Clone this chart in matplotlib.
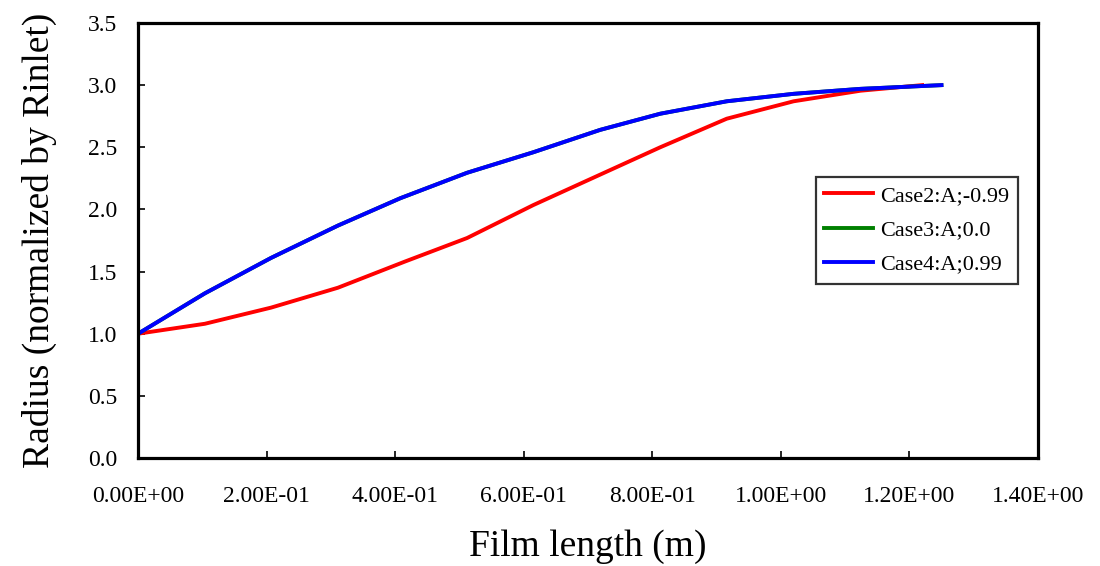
import numpy as np
import matplotlib
matplotlib.use('Agg')
import matplotlib.pyplot as plt

plt.rcParams['font.family'] = ['Liberation Serif', 'DejaVu Serif']

# Case2 (A = -0.99)
x_case2 = [0.0, 0.104, 0.207, 0.311, 0.415, 0.512, 0.615, 0.719, 0.8125, 0.916, 1.02, 1.124, 1.22]
y_case2 = [1.0, 1.08, 1.21, 1.37, 1.58, 1.77, 2.035, 2.28, 2.50, 2.73, 2.87, 2.955, 3.0]

# Case4 (A = 0.99)
x_case4 = [0.0, 0.104, 0.207, 0.311, 0.408, 0.512, 0.615, 0.719, 0.8125, 0.916, 1.02, 1.124, 1.25]
y_case4 = [1.0, 1.325, 1.61, 1.87, 2.09, 2.295, 2.46, 2.64, 2.77, 2.87, 2.93, 2.97, 3.0]

# Case3 (A = 0.0) lies under Case4 in the picture
x_case3 = x_case4
y_case3 = y_case4

x_ticks = [0.0, 0.2, 0.4, 0.6, 0.8, 1.0, 1.2, 1.4]
x_tick_labels = ['0.00E+00', '2.00E-01', '4.00E-01', '6.00E-01', '8.00E-01',
                 '1.00E+00', '1.20E+00', '1.40E+00']
y_ticks = [0.0, 0.5, 1.0, 1.5, 2.0, 2.5, 3.0, 3.5]

fig = plt.figure(figsize=(11, 5.66), dpi=100)
ax = fig.add_axes([0.1255, 0.1908, 0.818, 0.7686])

ax.plot(x_case2, y_case2, color='#ff0000', lw=2.8, label='Case2:A;-0.99')
ax.plot(x_case3, y_case3, color='#008000', lw=2.8, label='Case3:A;0.0')
ax.plot(x_case4, y_case4, color='#0000ff', lw=2.8, label='Case4:A;0.99')

ax.set_xlim(0, 1.4)
ax.set_ylim(0, 3.5)
ax.set_xticks(x_ticks)
ax.set_xticklabels(x_tick_labels)
ax.set_yticks(y_ticks)
ax.set_yticklabels(['%.1f' % v for v in y_ticks])
ax.tick_params(direction='in', length=5, width=1.2, labelsize=17, color='black')
ax.tick_params(axis='x', pad=20)
ax.tick_params(axis='y', pad=15)
for s in ax.spines.values():
    s.set_linewidth(2.3)

ax.set_xlabel('Film length (m)', fontsize=27)
ax.set_ylabel('Radius (normalized by Rinlet)', fontsize=27)
ax.xaxis.set_label_coords(0.5, -0.163)
ax.yaxis.set_label_coords(-0.09, 0.5)

leg = ax.legend(loc='upper left', bbox_to_anchor=(0.753, 0.647), fontsize=16,
                frameon=True, fancybox=False, handlelength=2.2, handletextpad=0.3,
                borderpad=0.4, labelspacing=0.62, borderaxespad=0)
leg.get_frame().set_edgecolor('black')
leg.get_frame().set_linewidth(1.6)
for ln in leg.get_lines():
    ln.set_linewidth(2.8)

plt.savefig('out.png', dpi=100)
